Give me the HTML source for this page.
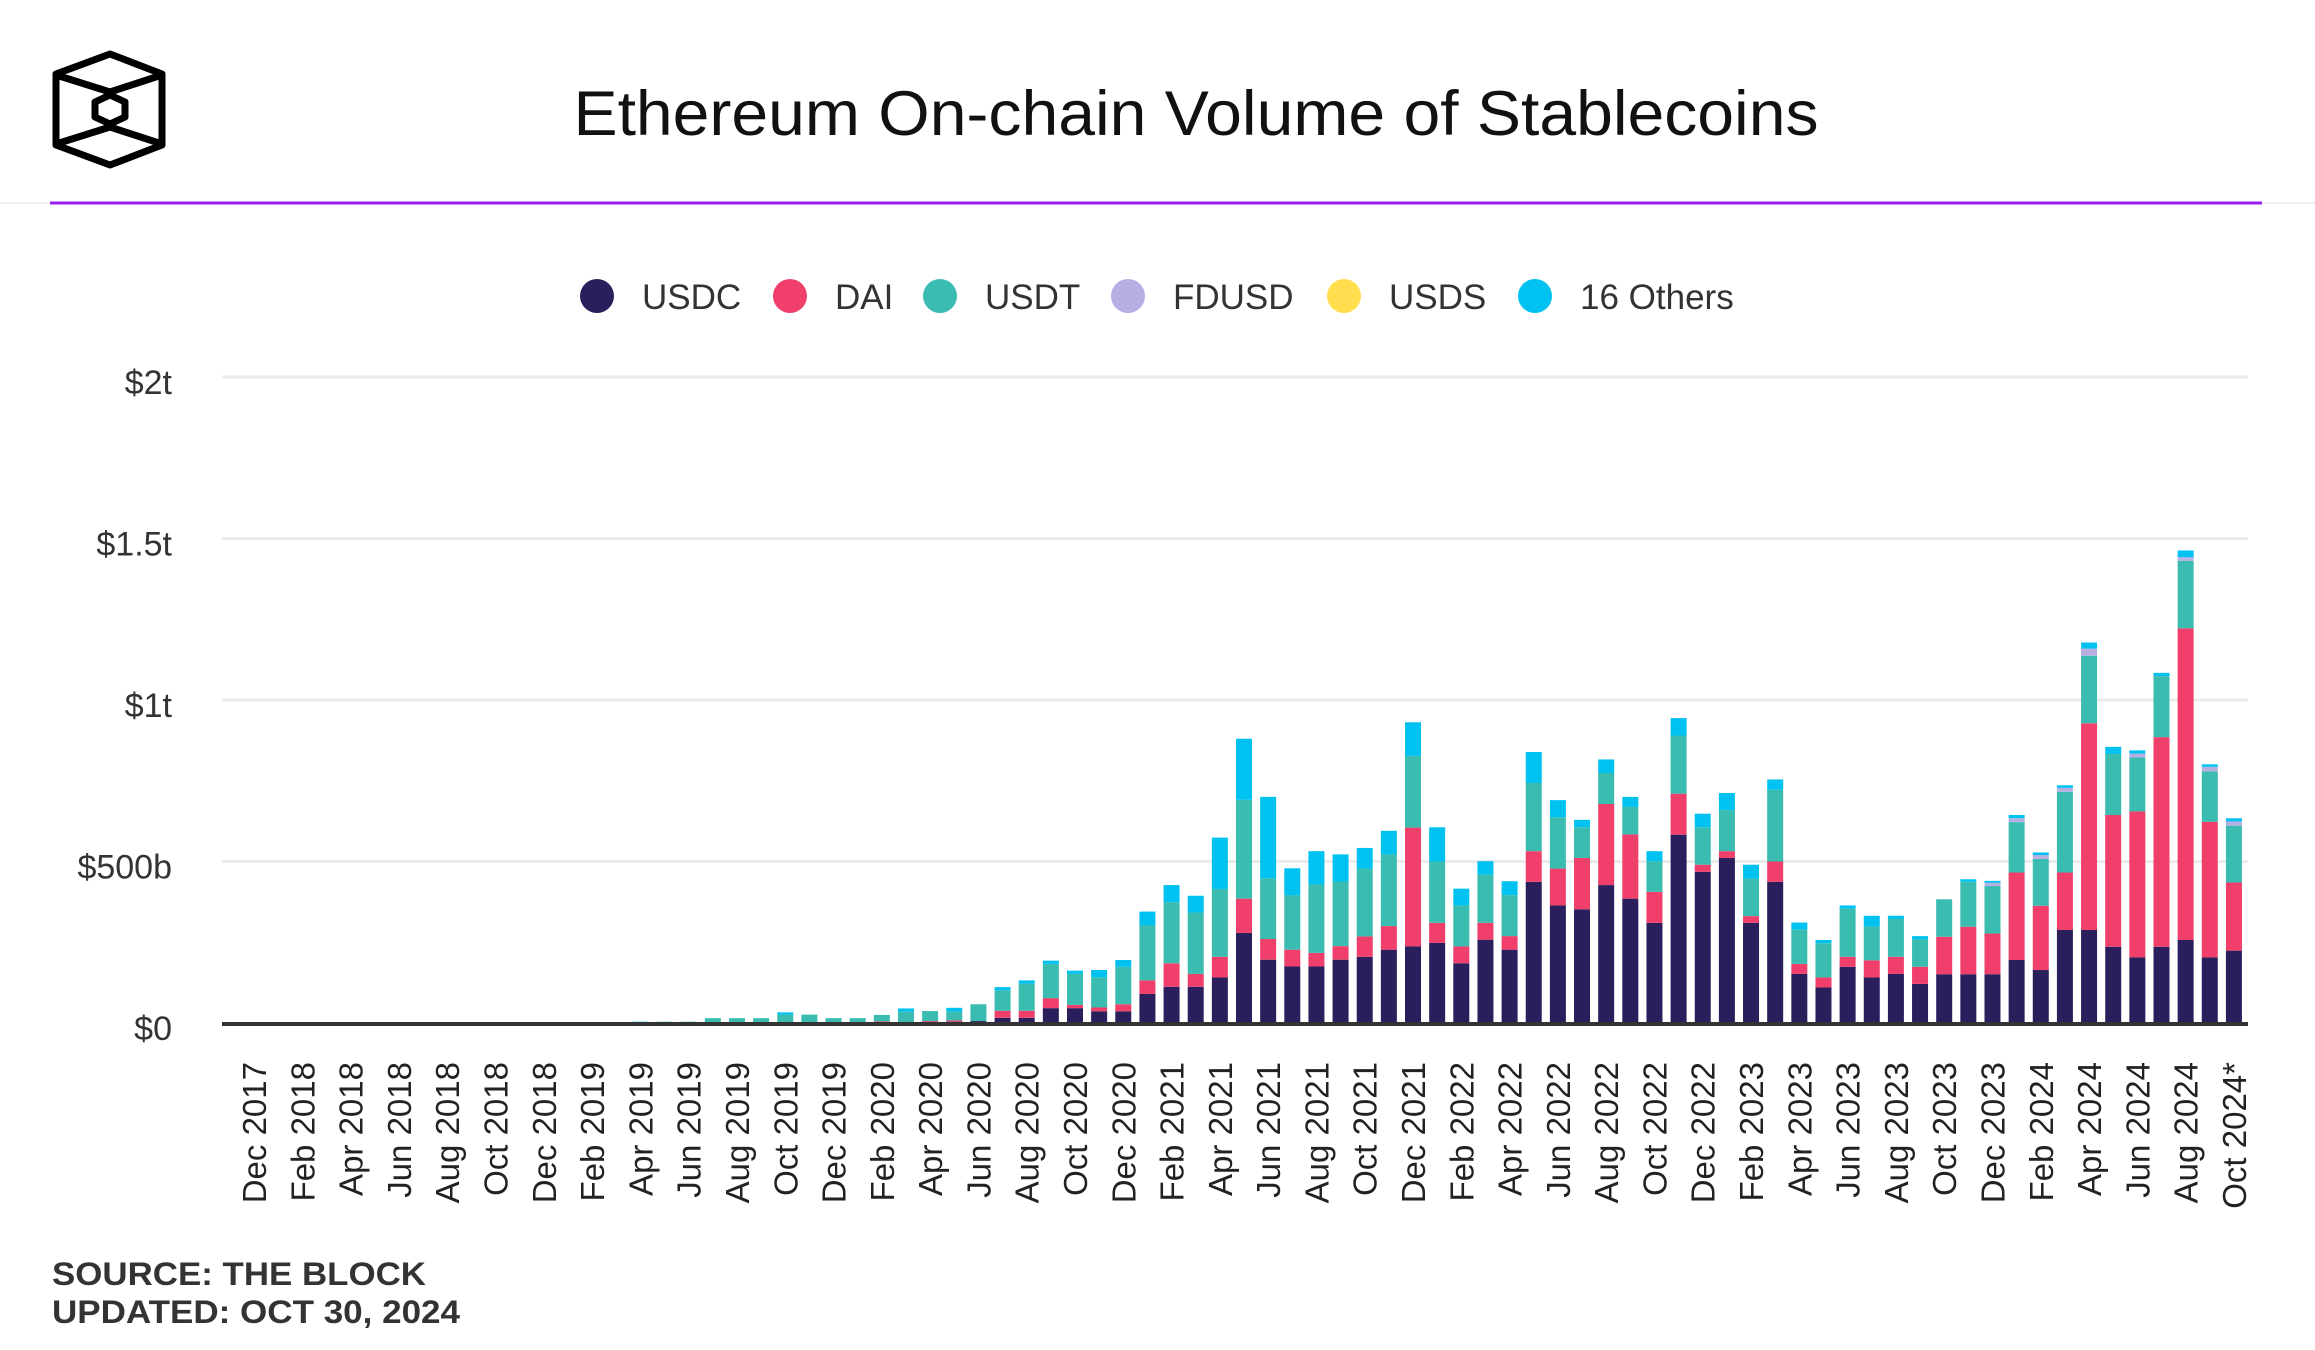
<!DOCTYPE html>
<html><head><meta charset="utf-8"><style>
html,body{margin:0;padding:0;background:#fff;}
svg{display:block;font-family:"Liberation Sans",sans-serif;}
</style></head><body>
<svg id="chart" width="2315" height="1350" viewBox="0 0 2315 1350" xmlns="http://www.w3.org/2000/svg">
  <g fill="none" stroke="#000" stroke-width="7" stroke-linejoin="round">
    <polygon points="110,54 162,74 162,145 110,165 56,145 56,74"/>
    <polygon points="110,95 125,102 125,117 110,124 95,117 95,102"/>
    <polyline points="56,75 110,92 162,75"/>
    <polyline points="56,144 110,127 162,144"/>
  </g>
  <text x="1196" y="135" font-size="63" text-anchor="middle" textLength="1245" lengthAdjust="spacingAndGlyphs" fill="#111">Ethereum On-chain Volume of Stablecoins</text>
  <line x1="0" y1="203" x2="2315" y2="203" stroke="#eee" stroke-width="2"/>
  <line x1="50" y1="203" x2="2262" y2="203" stroke="#9b1ff0" stroke-width="3"/>
  <g id="legend"></g>
  <g id="grid"></g>
  <g id="bars"></g>
  <g id="xlabels"></g>
  <text x="52" y="1285" font-size="32" font-weight="bold" fill="#333" textLength="374" lengthAdjust="spacingAndGlyphs">SOURCE: THE BLOCK</text>
  <text x="52" y="1323" font-size="32" font-weight="bold" fill="#333" textLength="408" lengthAdjust="spacingAndGlyphs">UPDATED: OCT 30, 2024</text>
</svg>
<script>
// values in $ billions, Dec 2017 .. Oct 2024
const usdc = [0,0,0,0,0,0,0,0,0,0, 0,0,0,0,0,0,0,0,0,0, 0,0,0,0,0,0,0,3,0,4,
  6,16,16,46,46,36,36,90,112,112, 141,279,196,175,175,196,205,227,237,248,
  185,258,227,437,364,352,427,385,310,583, 468,511,310,437,152,110,174,141,152,121,
  151,151,151,195,164,288,288,236,203,236, 257,203,224];
const dai = [0,0,0,0,0,0,0,0,0,0, 0,0,0,0,0,0,0,0,0,0, 0,0,0,0,0,3,5,0,6,4,
  0,22,22,31,10,12,22,42,73,40, 64,106,64,52,42,42,63,73,368,62,
  52,52,42,95,114,159,251,199,96,127, 22,21,21,63,31,31,31,53,53,53,
  116,147,126,271,199,178,640,408,452,649, 965,420,211];
const usdt = [0,0,0,0,0,0,0,0,0,0, 0,0,0,0,0,0,1,4,4,15, 15,15,26,26,15,12,20,32,31,28,
  52,63,84,106,96,94,116,170,189,190, 210,306,188,168,212,200,210,222,222,190,
  127,149,127,211,159,95,96,85,95,180, 116,127,116,222,106,106,149,105,117,85,
  116,139,147,156,145,250,209,189,167,189, 209,156,176];
const fdusd = [0,0,0,0,0,0,0,0,0,0, 0,0,0,0,0,0,0,0,0,0, 0,0,0,0,0,0,0,0,0,0,
  0,0,0,0,0,0,0,0,0,0, 0,0,0,0,0,0,0,0,0,0, 0,0,0,0,0,0,0,0,0,0, 0,0,0,0,0,0,0,0,0,0,
  0,0,10,12,12,12,22,0,12,0, 11,14,13];
const usds = [0,0,0,0,0,0,0,0,0,0, 0,0,0,0,0,0,0,0,0,0, 0,0,0,0,0,0,0,0,0,0,
  0,0,0,0,0,0,0,0,0,0, 0,0,0,0,0,0,0,0,0,0, 0,0,0,0,0,0,0,0,0,0, 0,0,0,0,0,0,0,0,0,0,
  0,0,0,0,0,0,0,0,0,0, 0,0,0];
const others = [0,0,0,0,0,0,0,0,0,0, 0,0,0,0,0,0,3,0,0,0, 0,0,7,0,0,0,0,10,0,11,
  0,10,10,10,10,22,21,43,53,52, 159,189,252,84,103,84,64,73,104,106,
  52,42,43,96,53,23,42,31,31,54, 42,53,43,32,22,10,10,33,10,10,
  0,8,6,10,8,8,19,22,10,10, 21,8,10];
const seriesNames = ["USDC","DAI","USDT","FDUSD","USDS","16 Others"];
const seriesColors = ["#2a1f5c","#f03f6a","#3bbcb0","#b7aee2","#ffde4f","#00c2f0"];
const tickValues = [0,500,1000,1500,2000];
const tickLabels = ["$0","$500b","$1t","$1.5t","$2t"];
const monthNames = ["Jan","Feb","Mar","Apr","May","Jun","Jul","Aug","Sep","Oct","Nov","Dec"];
const categories = [];
for (let i = 0; i < usdc.length; i++) {
  const m = (11 + i) % 12, y = 2017 + Math.floor((11 + i) / 12);
  categories.push(monthNames[m] + " " + y + (i === usdc.length - 1 ? "*" : ""));
}

const NS = "http://www.w3.org/2000/svg";
const plotL = 242, plotR = 2246, y0 = 1023, yTop = 377, vMax = 2000;
const band = (plotR - plotL) / categories.length;
const barW = 16;
function yScale(v){ return y0 - v / vMax * (y0 - yTop); }
function xCenter(i){ return plotL + band * (i + 0.5); }
function mk(tag, attrs, parent){
  const e = document.createElementNS(NS, tag);
  for (const k in attrs) e.setAttribute(k, attrs[k]);
  parent.appendChild(e); return e;
}

// legend
const legend = document.getElementById("legend");
const legendDotX = [597,790,940,1128,1344,1535];
seriesNames.forEach((n, i) => {
  const g = mk("g", {}, legend);
  
  
  mk("circle", {cx: legendDotX[i], cy: 296, r: 17, fill: seriesColors[i]}, g);
  const t = mk("text", {x: legendDotX[i] + 45, y: 309, "font-size": 35, fill: "#333"}, g);
  t.textContent = n;
});

// grid & y ticks
const grid = document.getElementById("grid");
tickValues.forEach((v, i) => {
  const y = yScale(v);
  if (v !== 0) {
    const l = mk("line", {x1: 222, x2: 2248, y1: y, y2: y, stroke: "#ebebeb", "stroke-width": 3}, grid);
    
    
  }
  const t = mk("text", {x: 172, y: y + 17, "font-size": 34, "text-anchor": "end", fill: "#333"}, grid);
  
  
  t.textContent = tickLabels[i];
});

// bars
const bars = document.getElementById("bars");
const allSeries = [usdc, dai, usdt, fdusd, usds, others];
categories.forEach((c, i) => {
  let acc = 0;
  allSeries.forEach((s, k) => {
    const v = s[i];
    if (v <= 0) return;
    const yT = yScale(acc + v), yB = yScale(acc);
    const r = mk("rect", {x: xCenter(i) - barW/2, y: yT, width: barW, height: yB - yT, fill: seriesColors[k]}, bars);
    
    
    acc += v;
  });
});
const base = mk("line", {x1: 222, x2: 2248, y1: y0 + 1, y2: y0 + 1, stroke: "#333", "stroke-width": 4}, bars);



// x labels
const xl = document.getElementById("xlabels");
categories.forEach((c, i) => {
  if (i % 2 !== 0) return;
  const x = xCenter(i) + 12, y = 1062;
  const t = mk("text", {x: x, y: y, "font-size": 33, "text-anchor": "end", fill: "#222", transform: "rotate(-90 " + x + " " + y + ")"}, xl);
  
  
  t.textContent = c;
});
</script>
</body></html>
